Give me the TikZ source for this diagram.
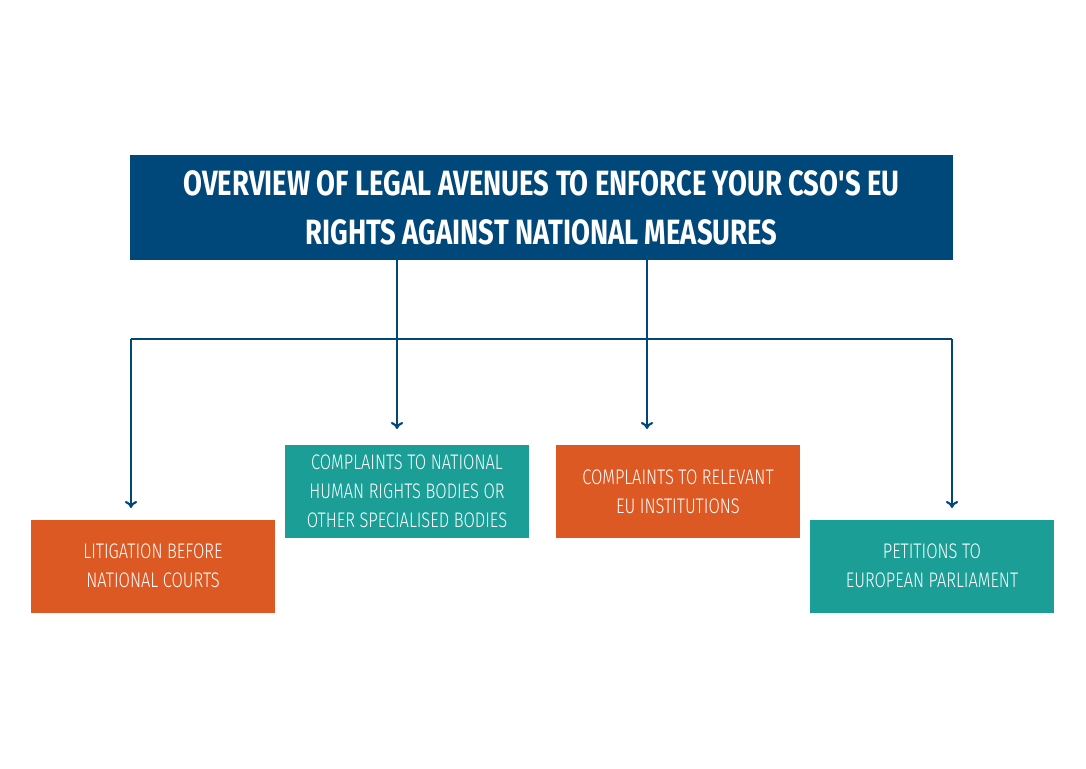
\documentclass[tikz,border=0pt]{standalone}
\usepackage{fontspec}
\newfontfamily\cond[FakeStretch=0.78]{Fira Sans}
\newfontfamily\condlight[FakeStretch=0.78]{Fira Sans Light}
\usetikzlibrary{arrows.meta}
\definecolor{navy}{RGB}{0,71,122}
\definecolor{rust}{RGB}{221,89,36}
\definecolor{teal}{RGB}{26,158,150}
\begin{document}
\begin{tikzpicture}[x=0.02cm,y=0.02cm]
    \tikzstyle{avenue}=[text=white,minimum width=244*0.02cm,minimum height=93*0.02cm,align=center,font=\condlight\fontsize{12}{16.5}\selectfont]
    \tikzstyle{link}=[draw=navy,line width=1.2pt,-{To[length=4pt,width=7pt]}]
    \useasboundingbox (0,0) rectangle (1086,-768);
    \node[fill=navy,text=white,minimum width=823*0.02cm,minimum height=105*0.02cm,align=center,font=\cond\bfseries\fontsize{20}{28}\selectfont] (title) at (541.5,-207.5) {OVERVIEW OF LEGAL AVENUES TO ENFORCE YOUR CSO'S EU\\RIGHTS AGAINST NATIONAL MEASURES};

    % avenues
    \node[avenue,fill=rust] (courts) at (153,-566) {LITIGATION BEFORE\\NATIONAL COURTS};
    \node[avenue,fill=teal] (nhri) at (407,-491.5) {COMPLAINTS TO NATIONAL\\HUMAN RIGHTS BODIES OR\\OTHER SPECIALISED BODIES};
    \node[avenue,fill=rust] (euinst) at (678,-491.5) {COMPLAINTS TO RELEVANT\\EU INSTITUTIONS};
    \node[avenue,fill=teal] (petitions) at (932,-566) {PETITIONS TO\\EUROPEAN PARLIAMENT};

    % arrow ends
    \coordinate (a1) at (131,-508);
    \coordinate (a2) at (397,-429);
    \coordinate (a3) at (647,-429);
    \coordinate (a4) at (952,-508);

    % edges
    \draw[link] (title.south -| a2) -- (a2);
    \draw[link] (title.south -| a3) -- (a3);
    \draw[link] (a1 |- 0,-339) -- (a1);
    \draw[link] (a4 |- 0,-339) -- (a4);
    \draw[draw=navy,line width=1.2pt] (a1 |- 0,-339) -- (a4 |- 0,-339);
\end{tikzpicture}
\end{document}
